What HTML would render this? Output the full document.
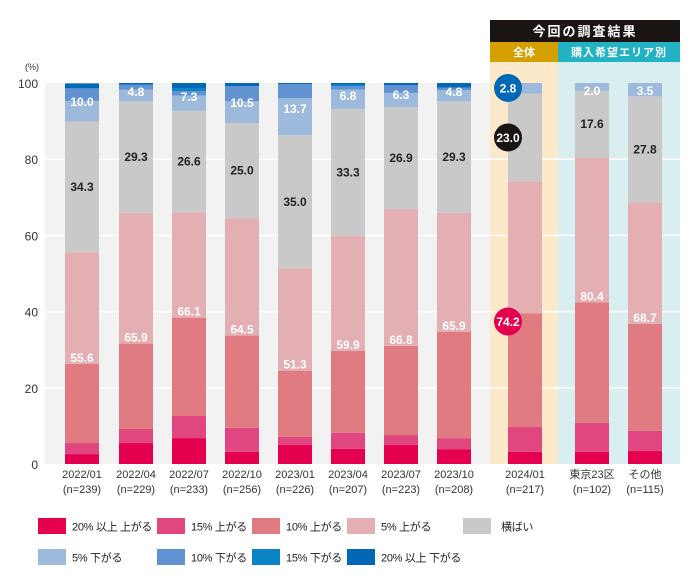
<!DOCTYPE html>
<html><head><meta charset="utf-8">
<style>
body{margin:0;background:#fff;width:700px;height:580px;overflow:hidden}
svg{display:block;font-family:"Liberation Sans","Noto Sans CJK JP",sans-serif}
</style></head>
<body>
<svg id="chart" width="700" height="580" viewBox="0 0 700 580" xmlns="http://www.w3.org/2000/svg">
  <rect x="45" y="83" width="445" height="381" fill="#f2f2f2"/>
  <rect x="490" y="62" width="68" height="402" fill="#fbe9c9"/>
  <rect x="558" y="62" width="122" height="402" fill="#d9eef0"/>
  <rect x="490" y="20" width="190" height="22" fill="#1a1413"/>
  <text x="585" y="36" fill="#fff" font-size="13" font-weight="bold" text-anchor="middle" letter-spacing="2">今回の調査結果</text>
  <rect x="490" y="42" width="68" height="20" fill="#d4a000"/>
  <text x="524" y="56" fill="#fff" font-size="11" font-weight="bold" text-anchor="middle">全体</text>
  <rect x="558" y="42" width="122" height="20" fill="#22b2c3"/>
  <text x="619" y="56" fill="#fff" font-size="11" font-weight="bold" text-anchor="middle" letter-spacing="1">購入希望エリア別</text>
  <text x="32" y="70" font-size="9" fill="#333" text-anchor="middle">(%)</text>
  <g id="grid"></g>
  <g id="bars"></g>
  <g id="labels"></g>
  <g id="legend"></g>
</svg>
<script>
const categories=["2022/01","2022/04","2022/07","2022/10","2023/01","2023/04","2023/07","2023/10","2024/01","東京23区","その他"];
const sampleSizes=["(n=239)","(n=229)","(n=233)","(n=256)","(n=226)","(n=207)","(n=223)","(n=208)","(n=217)","(n=102)","(n=115)"];
const up20=[2.6,5.5,6.8,3.2,5.0,4.0,5.0,3.9,3.2,3.2,3.4];
const up15=[2.9,3.7,5.8,6.3,2.1,4.2,2.6,2.9,6.5,7.6,5.3];
const up10=[20.8,22.4,25.8,24.2,17.4,21.5,23.4,27.9,29.8,31.6,28.1];
const up5=[29.3,34.3,27.7,30.8,26.8,30.2,35.8,31.2,34.7,38.0,31.9];
const flat=[34.3,29.3,26.6,25.0,35.0,33.3,26.9,29.3,23.0,17.6,27.8];
const down5=[5.4,3.1,4.0,5.7,9.7,5.1,3.7,2.9,2.8,2.0,3.5];
const down10=[3.3,1.3,1.2,4.0,3.7,0.9,2.0,0.7,0,0,0];
const down15=[0,0,0.6,0,0,0.4,0,0,0,0,0];
const down20=[1.3,0.4,1.5,0.8,0.3,0.4,0.6,1.2,0,0,0];
const upTotal=["55.6","65.9","66.1","64.5","51.3","59.9","66.8","65.9","74.2","80.4","68.7"];
const flatTotal=["34.3","29.3","26.6","25.0","35.0","33.3","26.9","29.3","23.0","17.6","27.8"];
const downTotal=["10.0","4.8","7.3","10.5","13.7","6.8","6.3","4.8","2.8","2.0","3.5"];
const yTicks=[0,20,40,60,80,100];
const seriesNames=["20% 以上 上がる","15% 上がる","10% 上がる","5% 上がる","横ばい","5% 下がる","10% 下がる","15% 下がる","20% 以上 下がる"];

const colors=["#e4004f","#e0467f","#e07c81","#e3afb2","#c9c9c9","#9dbadd","#6193d2","#0a84c4","#0068b5"];
const series=[up20,up15,up10,up5,flat,down5,down10,down15,down20];
const NS="http://www.w3.org/2000/svg";
const y=v=>464-v*3.81;
const centers=[82,136,189,242,295,348,401,454,525,592,645];
const x=i=>centers[i];
const BW=34;
function mk(tag,attrs,parent,txt){const e=document.createElementNS(NS,tag);for(const k in attrs)e.setAttribute(k,attrs[k]);if(txt!==undefined)e.textContent=txt;parent.appendChild(e);return e;}
const grid=document.getElementById('grid'),bars=document.getElementById('bars'),labels=document.getElementById('labels'),legend=document.getElementById('legend');
yTicks.forEach(t=>{
  if(t>0&&t<100){const l=mk('line',{x1:45,x2:680,y1:y(t),y2:y(t),stroke:'#fff','stroke-width':1.5},grid);
  
  }
  const tx=mk('text',{x:38,y:y(t)+5,'font-size':12,fill:'#333','text-anchor':'end'},grid,String(t));
  
  
});
categories.forEach((c,i)=>{
  let cum=0;const cx=x(i);
  series.forEach((s,k)=>{
    const v=s[i];if(v<=0){return;}
    const r=mk('rect',{x:cx-BW/2,y:y(cum+v),width:BW,height:y(cum)-y(cum+v),fill:colors[k]},bars);
    
    
    cum+=v;
  });
  const t1=mk('text',{x:cx,y:478,'font-size':11,fill:'#333','text-anchor':'middle'},labels,c);
  
  
  const t2=mk('text',{x:cx,y:493,'font-size':11,fill:'#333','text-anchor':'middle'},labels,sampleSizes[i]);
  
  
  const c10=up20[i]+up15[i]+up10[i];
  const upT=c10+up5[i];
  const flT=upT+flat[i];
  const fy=(y(upT)+y(flT))/2;
  const dy=Math.max((y(flT)+y(100))/2,y(100)+8);
  if(i===8){
    const circ=[[y(c10)+8,'#e4004f',upTotal[i]],[fy,'#1a1413',flatTotal[i]],[y(100)+5,'#0068b5',downTotal[i]]];
    circ.forEach((cc,j)=>{
      const ci=mk('circle',{cx:cx-17,cy:cc[0],r:14,fill:cc[1]},labels);
      
      
      const tt=mk('text',{x:cx-17,y:cc[0]+4.5,'font-size':12,'font-weight':'bold',fill:'#fff','text-anchor':'middle'},labels,cc[2]);
      
      
    });
  } else {
    const a=mk('text',{x:cx,y:y(c10)-2,'font-size':12,'font-weight':'bold',fill:'#fff','text-anchor':'middle'},labels,upTotal[i]);
    
    
    const b=mk('text',{x:cx,y:fy+4,'font-size':12,'font-weight':'bold',fill:'#222','text-anchor':'middle'},labels,flatTotal[i]);
    
    
    const d=mk('text',{x:cx,y:dy+4,'font-size':12,'font-weight':'bold',fill:'#fff','text-anchor':'middle'},labels,downTotal[i]);
    
    
  }
});
const lx=[38,157,252,347,463,38,157,252,347];
seriesNames.forEach((n,k)=>{
  const row=k<5?0:1;const yy=row?549:518;
  const sw=mk('rect',{x:lx[k],y:yy,width:28,height:16,fill:colors[k]},legend);
  
  
  const tx=mk('text',{x:k===4?lx[k]+38:lx[k]+34,y:yy+12.5,'font-size':11,'letter-spacing':'-0.3',fill:'#222'},legend,n);
  
  
});
</script>
</body></html>
